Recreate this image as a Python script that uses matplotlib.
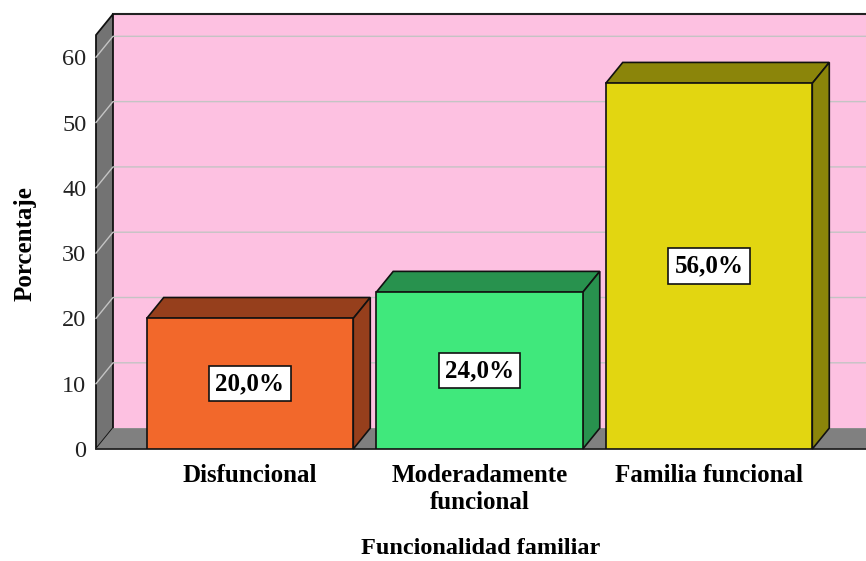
import numpy as np
import matplotlib.pyplot as plt
from matplotlib.patches import Polygon

categorias = ['Disfuncional', 'Moderadamente\nfuncional', 'Familia funcional']
porcentajes = [20.0, 24.0, 56.0]
etiquetas = ['20,0%', '24,0%', '56,0%']
colores_frente = ['#f2682b', '#40e87c', '#e2d611']
colores_lado = ['#963f1c', '#28924e', '#8b850a']
yticks = [0, 10, 20, 30, 40, 50, 60]

plt.rcParams['font.family'] = ['Liberation Serif', 'DejaVu Serif']

fig = plt.figure(figsize=(8.66, 5.61), dpi=100)
ax = fig.add_axes([96/866, (561-449)/561, 770/866, 437.5/561])
ax.set_xlim(-0.671, 2.684)
ax.set_ylim(0, 67)
for s in ax.spines.values():
    s.set_visible(False)
ax.set_facecolor('none')

# profundidad del efecto 3D (en unidades de datos)
dx, dy = 0.074, 3.2
x0, x1 = ax.get_xlim()
x1 = x1 + 0.2
ytop = 63.4

# pared del fondo
ax.add_patch(Polygon([(x0+dx, dy), (x1+dx, dy), (x1+dx, ytop+dy), (x0+dx, ytop+dy)],
                     closed=True, fc='#fdc1e1', ec='none', clip_on=False, zorder=0))
ax.plot([x0+dx, x1+dx], [ytop+dy, ytop+dy], color='#222222', lw=1.5, clip_on=False, zorder=1)

# pared izquierda
ax.add_patch(Polygon([(x0, 0), (x0+dx, dy), (x0+dx, ytop+dy), (x0, ytop)],
                     closed=True, fc='#737373', ec='#111111', lw=1.3, clip_on=False, zorder=1))
# piso
ax.add_patch(Polygon([(x0, 0), (x1, 0), (x1+dx, dy), (x0+dx, dy)],
                     closed=True, fc='#808080', ec='none', clip_on=False, zorder=1))
ax.plot([x0, x1], [0, 0], color='#222222', lw=1.3, clip_on=False, zorder=1.5)

# lineas de cuadricula
for v in yticks[1:]:
    ax.plot([x0, x0+dx, x1+dx], [v, v+dy, v+dy], color='#c4c4c4', lw=1, clip_on=False, zorder=1.2)

# barras
x = np.arange(len(categorias))
w = 0.9
for i in range(len(x)):
    xl = x[i] - w/2
    xr = x[i] + w/2
    v = porcentajes[i]
    ax.add_patch(Polygon([(xl, v), (xr, v), (xr+dx, v+dy), (xl+dx, v+dy)], closed=True,
                         fc=colores_lado[i], ec='#111111', lw=1.2, clip_on=False, zorder=2.5))
    ax.add_patch(Polygon([(xr, 0), (xr+dx, dy), (xr+dx, v+dy), (xr, v)], closed=True,
                         fc=colores_lado[i], ec='#111111', lw=1.2, clip_on=False, zorder=2.5))
ax.bar(x, porcentajes, width=w, color=colores_frente, edgecolor='#111111', lw=1.2, zorder=3)

for i in range(len(x)):
    ax.text(x[i], porcentajes[i]/2, etiquetas[i], ha='center', va='center', fontsize=18,
            fontweight='bold', zorder=4,
            bbox=dict(boxstyle='square,pad=0.25', fc='white', ec='#111111', lw=1.2))

ax.set_yticks(yticks)
ax.set_yticklabels([str(t) for t in yticks], fontsize=17.5, color='#222222')
ax.tick_params(axis='y', length=0, pad=7)
ax.set_xticks(x)
ax.set_xticklabels(categorias, fontsize=18, fontweight='bold')
ax.tick_params(axis='x', length=0, pad=11)

ax.set_xlabel('Funcionalidad familiar', fontsize=17.5, fontweight='bold')
ax.xaxis.set_label_coords(0.5, -0.203)
ax.set_ylabel('Porcentaje', fontsize=18, fontweight='bold')
ax.yaxis.set_label_coords(-0.077, 0.47)

plt.savefig('out.png', dpi=100)
